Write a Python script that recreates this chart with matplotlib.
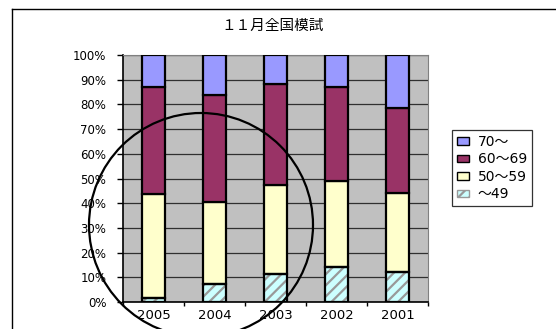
import matplotlib
matplotlib.use("Agg")
import matplotlib.pyplot as plt
import numpy as np
from matplotlib.patches import Patch, Ellipse
from matplotlib.lines import Line2D

plt.rcParams['font.family'] = ['DejaVu Sans', 'Noto Sans CJK JP']
plt.rcParams['hatch.linewidth'] = 1.6

title = "１１月全国模試"
years = ['2005', '2004', '2003', '2002', '2001']
under49 = [1.7, 7.2, 11.2, 14.3, 12.1]
s50_59 = [41.9, 33.4, 36.0, 34.8, 32.2]
s60_69 = [43.6, 43.2, 40.9, 37.8, 34.4]
s70 = [12.8, 16.2, 11.9, 13.1, 21.3]
labels = ['〜49', '50〜59', '60〜69', '70〜']
colors = ['#CCFFFF', '#FFFFCC', '#993366', '#9999FF']
yticks = [0, 10, 20, 30, 40, 50, 60, 70, 80, 90, 100]

W, H = 556, 329
fig = plt.figure(figsize=(W / 100, H / 100), dpi=100)
ax = fig.add_axes([123 / W, (H - 302) / H, 305 / W, 247 / H])
ax.set_facecolor('#C0C0C0')

series = [under49, s50_59, s60_69, s70]
arr = np.array(series, dtype=float)
pct = arr / arr.sum(axis=0) * 100
x = np.arange(len(years))
bw = 0.38
bottom = np.zeros(len(years))
for i, vals in enumerate(pct):
    if i == 0:
        ax.bar(x, vals, bw, bottom=bottom, color=colors[i], edgecolor='#999999',
               hatch='///', linewidth=0, zorder=3)
        ax.bar(x, vals, bw, bottom=bottom, fill=False, edgecolor='black',
               linewidth=1.6, zorder=4)
    else:
        ax.bar(x, vals, bw, bottom=bottom, color=colors[i], edgecolor='black',
               linewidth=1.6, zorder=3)
    bottom += vals

ax.set_xlim(-0.5, len(years) - 0.5)
ax.set_ylim(0, 100)
ax.set_yticks(yticks)
ax.set_yticklabels([f"{t}%" for t in yticks], fontsize=8.5)
ax.yaxis.grid(True, color='#303030', linewidth=0.9, zorder=1)
ax.set_axisbelow(True)
ax.tick_params(axis='y', length=4, width=1, pad=8)
ax.set_xticks(x)
ax.set_xticklabels(years, fontsize=9.5)
ax.tick_params(axis='x', length=0, pad=5)
ax.set_xticks(np.arange(-0.5, len(years)), minor=True)
ax.tick_params(axis='x', which='minor', length=3, width=1)
for s in ['top', 'right']:
    ax.spines[s].set_color('#808080')
for s in ['left', 'bottom']:
    ax.spines[s].set_color('black')
    ax.spines[s].set_linewidth(1.2)

fig.text(273 / W, 1 - 25 / H, title, ha='center', va='center', fontsize=10.5)

handles = [Patch(facecolor=colors[3], edgecolor='black', label=labels[3]),
           Patch(facecolor=colors[2], edgecolor='black', label=labels[2]),
           Patch(facecolor=colors[1], edgecolor='black', label=labels[1]),
           Patch(facecolor=colors[0], edgecolor='#999999', hatch='///', label=labels[0])]
leg = fig.legend(handles=handles, loc='upper left', bbox_to_anchor=(452 / W, 1 - 130 / H),
                 bbox_transform=fig.transFigure, fontsize=10, frameon=True, fancybox=False,
                 edgecolor='black', handlelength=0.9, handleheight=0.45, handletextpad=0.6,
                 labelspacing=0.25, borderpad=0.35, borderaxespad=0)
leg.get_frame().set_linewidth(0.9)

# outer chart frame
fig.add_artist(Line2D([12 / W, 1], [1 - 9 / H, 1 - 9 / H], transform=fig.transFigure,
                      color='black', linewidth=1))
fig.add_artist(Line2D([12 / W, 12 / W], [0, 1 - 9 / H], transform=fig.transFigure,
                      color='black', linewidth=1))
# hand-drawn circle annotation
fig.add_artist(Ellipse((201 / W, 1 - 225 / H), 224 / W, 224 / H, transform=fig.transFigure,
                       fill=False, edgecolor='black', linewidth=1.6, zorder=10))

fig.savefig('out.png', dpi=100)
